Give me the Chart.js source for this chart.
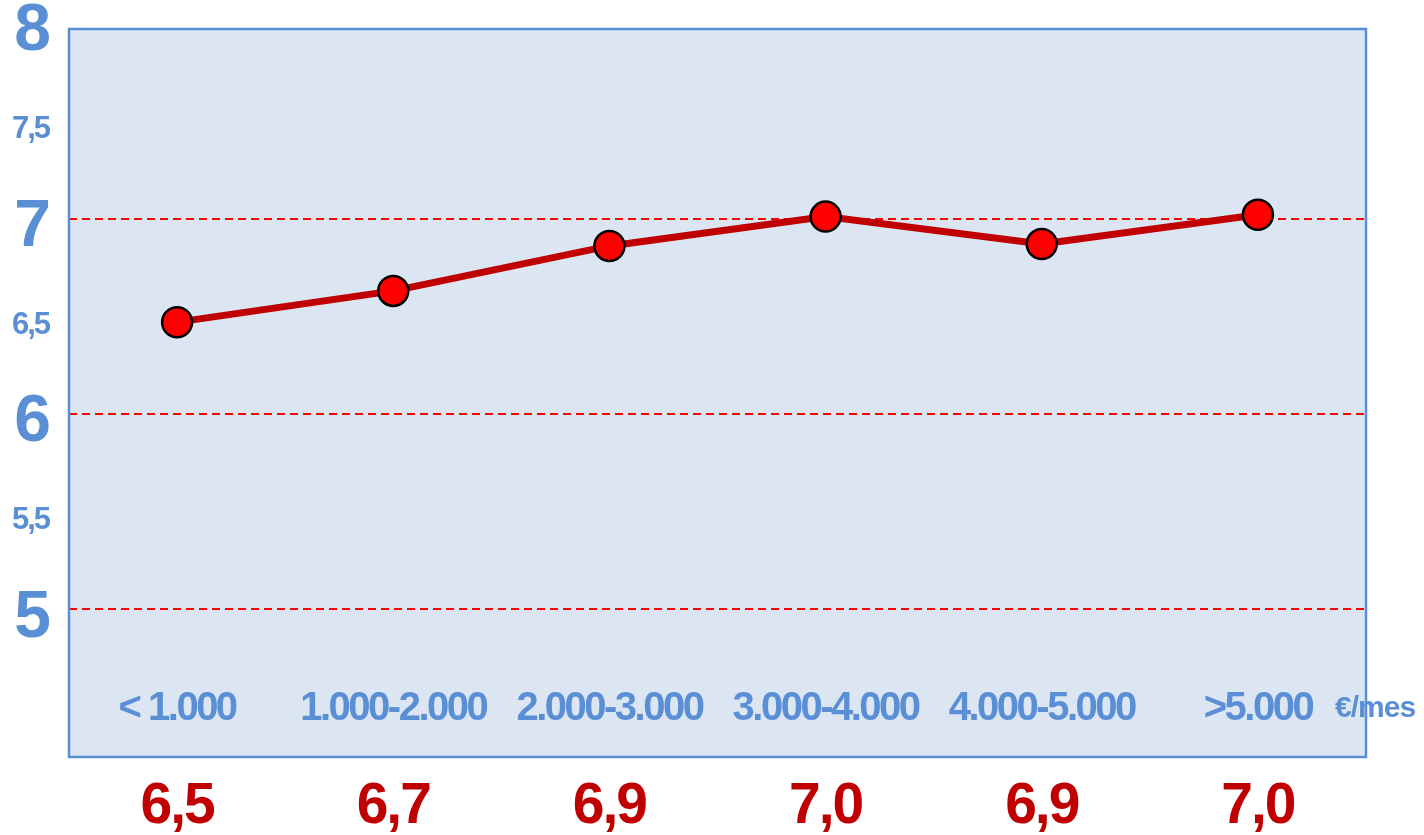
<!DOCTYPE html>
<html>
<head>
<meta charset="utf-8">
<script src="https://cdn.jsdelivr.net/npm/chart.js@4.4.1/dist/chart.umd.min.js"></script>
<style>
  html, body { margin: 0; padding: 0; background: #ffffff; }
  #wrap { width: 1424px; height: 835px; }
</style>
</head>
<body>
<div id="wrap"><canvas id="c" width="1424" height="835"></canvas></div>
<script>
// ---- data ----
const categories = ['< 1.000', '1.000-2.000', '2.000-3.000', '3.000-4.000', '4.000-5.000', '>5.000'];
const plottedValues = [6.47, 6.63, 6.86, 7.01, 6.87, 7.02];
const valueLabels = ['6,5', '6,7', '6,9', '7,0', '6,9', '7,0'];
const yTickValues = [5, 5.5, 6, 6.5, 7, 7.5, 8];
const gridValues = [5, 6, 7];
const unitLabel = '€/mes';

const BLUE = '#5A8FD6';
const DARKRED = '#C00000';
const FONT = '"Liberation Sans", Arial, Helvetica, sans-serif';

const framePlugin = {
  id: 'frame',
  beforeDraw(chart) {
    const { ctx, chartArea: a } = chart;
    ctx.letterSpacing = '-2px';
    ctx.save();
    ctx.fillStyle = '#DCE6F2';
    ctx.fillRect(a.left, a.top, a.right - a.left, a.bottom - a.top);
    ctx.restore();
  },
  beforeDatasetsDraw(chart) {
    const { ctx, chartArea: a } = chart;
    ctx.save();
    ctx.strokeStyle = BLUE;
    ctx.lineWidth = 2.5;
    ctx.strokeRect(a.left, a.top, a.right - a.left, a.bottom - a.top);
    ctx.restore();
  },
  afterDraw(chart) {
    const { ctx, chartArea: a } = chart;
    const xs = chart.scales.x;
    ctx.save();
    ctx.fillStyle = BLUE;
    ctx.font = 'bold 40px ' + FONT;
    ctx.letterSpacing = '-2.5px';
    ctx.textAlign = 'center';
    ctx.textBaseline = 'middle';
    categories.forEach((c, i) => {
      ctx.fillText(c, xs.getPixelForValue(i), a.bottom - 48);
    });
    ctx.font = 'bold 30px ' + FONT;
    ctx.letterSpacing = '-1px';
    ctx.textAlign = 'left';
    ctx.fillText(unitLabel, a.right - 31, a.bottom - 48);
    ctx.restore();
  }
};

new Chart(document.getElementById('c'), {
  type: 'line',
  data: {
    labels: categories,
    datasets: [{
      data: plottedValues,
      borderColor: DARKRED,
      borderWidth: 7,
      pointRadius: 15,
      pointHoverRadius: 15,
      pointBackgroundColor: '#FF0000',
      pointBorderColor: '#000000',
      pointBorderWidth: 2.5,
      tension: 0,
      fill: false
    }]
  },
  options: {
    responsive: false,
    animation: false,
    layout: { padding: { top: 29, right: 58, left: 0, bottom: 0 } },
    plugins: { legend: { display: false }, tooltip: { enabled: false } },
    scales: {
      x: {
        type: 'category',
        offset: true,
        grid: { display: false, drawTicks: false },
        border: { display: false },
        ticks: {
          padding: 16,
          color: DARKRED,
          font: { family: FONT, size: 57, weight: 'bold' },
          maxRotation: 0,
          autoSkip: false,
          callback: (v, i) => valueLabels[i]
        },
        afterFit(s) { s.height = 78; s.paddingLeft = 0; s.paddingRight = 0; }
      },
      y: {
        min: 4.245,
        max: 7.97,
        afterBuildTicks(s) { s.ticks = yTickValues.map(v => ({ value: v })); },
        afterFit(s) { s.width = 69; s.paddingTop = 0; s.paddingBottom = 0; },
        grid: {
          drawTicks: false,
          color: c => gridValues.includes(c.tick && c.tick.value) ? '#FF0000' : 'rgba(0,0,0,0)',
          lineWidth: 2
        },
        border: { display: false, dash: [8, 5] },
        ticks: {
          padding: 20,
          labelOffset: 9,
          color: BLUE,
          font: c => (c.tick && Number.isInteger(c.tick.value))
            ? { family: FONT, size: 66, weight: 'bold' }
            : { family: FONT, size: 31, weight: 'bold' },
          callback: v => String(v).replace('.', ',')
        }
      }
    }
  },
  plugins: [framePlugin]
});
</script>
</body>
</html>
